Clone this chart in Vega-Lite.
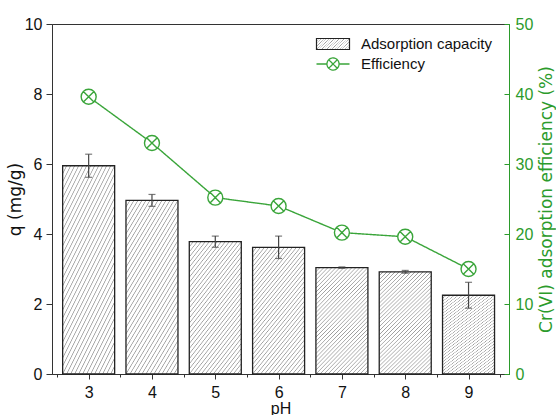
{
  "$schema": "https://vega.github.io/schema/vega-lite/v6.json",
  "width": 457,
  "height": 350,
  "autosize": {"type": "none"},
  "padding": {"left": 52, "top": 24, "right": 47, "bottom": 41},
  "config": {
    "view": {"stroke": "#333", "strokeWidth": 1},
    "font": "Liberation Sans",
    "axis": {"grid": false, "labelFont": "Liberation Sans", "labelFontSize": 16, "labelColor": "#111", "domainColor": "#333", "tickColor": "#333", "domainWidth": 1, "tickWidth": 1},
    "legend": {"labelFont": "Liberation Sans", "labelFontSize": 15, "labelColor": "#111", "padding": 0, "symbolSize": 484, "symbolStrokeWidth": 1.3, "labelOffset": 16}
  },
  "data": {
    "values": [
      {"pH": 3, "q": 5.95, "err": 0.33, "eff": 39.6},
      {"pH": 4, "q": 4.96, "err": 0.17, "eff": 33.0},
      {"pH": 5, "q": 3.78, "err": 0.16, "eff": 25.2},
      {"pH": 6, "q": 3.62, "err": 0.32, "eff": 24.0},
      {"pH": 7, "q": 3.04, "err": 0.02, "eff": 20.2},
      {"pH": 8, "q": 2.92, "err": 0.04, "eff": 19.6},
      {"pH": 9, "q": 2.25, "err": 0.37, "eff": 15.0}
    ]
  },
  "encoding": {
    "x": {
      "field": "pH",
      "type": "quantitative",
      "scale": {"domain": [2.5, 9.56], "nice": false, "zero": false},
      "axis": {
        "values": [2.5, 3, 3.5, 4, 4.5, 5, 5.5, 6, 6.5, 7, 7.5, 8, 8.5, 9, 9.5],
        "labelExpr": "datum.value % 1 === 0 ? '' + datum.value : ''",
        "tickSize": {"condition": {"test": "datum.value % 1 !== 0", "value": 3}, "value": 5},
        "labelPadding": 5,
        "labelFlush": false,
        "labelOverlap": false,
        "title": "pH",
        "titleFont": "Liberation Sans",
        "titleFontSize": 16,
        "titleFontWeight": "normal",
        "titleColor": "#111",
        "titleBaseline": "alphabetic",
        "titleY": 39
      }
    }
  },
  "layer": [
    {
      "layer": [
        {
          "mark": {
            "type": "bar",
            "width": 52,
            "strokeWidth": 1.3,
            "fill": {
              "gradient": "linear", "x1": 0, "y1": 0, "x2": 0.6, "y2": 1.2,
              "stops": [
                {"offset": 0, "color": "#9c9c9c"}, {"offset": 0.0055, "color": "#ffffff"}, {"offset": 0.0201, "color": "#ffffff"},
                {"offset": 0.0256, "color": "#9c9c9c"}, {"offset": 0.0311, "color": "#ffffff"}, {"offset": 0.0458, "color": "#ffffff"},
                {"offset": 0.0513, "color": "#9c9c9c"}, {"offset": 0.0568, "color": "#ffffff"}, {"offset": 0.0714, "color": "#ffffff"},
                {"offset": 0.0769, "color": "#9c9c9c"}, {"offset": 0.0824, "color": "#ffffff"}, {"offset": 0.0971, "color": "#ffffff"},
                {"offset": 0.1026, "color": "#9c9c9c"}, {"offset": 0.1081, "color": "#ffffff"}, {"offset": 0.1227, "color": "#ffffff"},
                {"offset": 0.1282, "color": "#9c9c9c"}, {"offset": 0.1337, "color": "#ffffff"}, {"offset": 0.1483, "color": "#ffffff"},
                {"offset": 0.1538, "color": "#9c9c9c"}, {"offset": 0.1593, "color": "#ffffff"}, {"offset": 0.174, "color": "#ffffff"},
                {"offset": 0.1795, "color": "#9c9c9c"}, {"offset": 0.185, "color": "#ffffff"}, {"offset": 0.1996, "color": "#ffffff"},
                {"offset": 0.2051, "color": "#9c9c9c"}, {"offset": 0.2106, "color": "#ffffff"}, {"offset": 0.2253, "color": "#ffffff"},
                {"offset": 0.2308, "color": "#9c9c9c"}, {"offset": 0.2363, "color": "#ffffff"}, {"offset": 0.2509, "color": "#ffffff"},
                {"offset": 0.2564, "color": "#9c9c9c"}, {"offset": 0.2619, "color": "#ffffff"}, {"offset": 0.2766, "color": "#ffffff"},
                {"offset": 0.2821, "color": "#9c9c9c"}, {"offset": 0.2876, "color": "#ffffff"}, {"offset": 0.3022, "color": "#ffffff"},
                {"offset": 0.3077, "color": "#9c9c9c"}, {"offset": 0.3132, "color": "#ffffff"}, {"offset": 0.3278, "color": "#ffffff"},
                {"offset": 0.3333, "color": "#9c9c9c"}, {"offset": 0.3388, "color": "#ffffff"}, {"offset": 0.3535, "color": "#ffffff"},
                {"offset": 0.359, "color": "#9c9c9c"}, {"offset": 0.3645, "color": "#ffffff"}, {"offset": 0.3791, "color": "#ffffff"},
                {"offset": 0.3846, "color": "#9c9c9c"}, {"offset": 0.3901, "color": "#ffffff"}, {"offset": 0.4048, "color": "#ffffff"},
                {"offset": 0.4103, "color": "#9c9c9c"}, {"offset": 0.4158, "color": "#ffffff"}, {"offset": 0.4304, "color": "#ffffff"},
                {"offset": 0.4359, "color": "#9c9c9c"}, {"offset": 0.4414, "color": "#ffffff"}, {"offset": 0.456, "color": "#ffffff"},
                {"offset": 0.4615, "color": "#9c9c9c"}, {"offset": 0.467, "color": "#ffffff"}, {"offset": 0.4817, "color": "#ffffff"},
                {"offset": 0.4872, "color": "#9c9c9c"}, {"offset": 0.4927, "color": "#ffffff"}, {"offset": 0.5073, "color": "#ffffff"},
                {"offset": 0.5128, "color": "#9c9c9c"}, {"offset": 0.5183, "color": "#ffffff"}, {"offset": 0.533, "color": "#ffffff"},
                {"offset": 0.5385, "color": "#9c9c9c"}, {"offset": 0.544, "color": "#ffffff"}, {"offset": 0.5586, "color": "#ffffff"},
                {"offset": 0.5641, "color": "#9c9c9c"}, {"offset": 0.5696, "color": "#ffffff"}, {"offset": 0.5842, "color": "#ffffff"},
                {"offset": 0.5897, "color": "#9c9c9c"}, {"offset": 0.5952, "color": "#ffffff"}, {"offset": 0.6099, "color": "#ffffff"},
                {"offset": 0.6154, "color": "#9c9c9c"}, {"offset": 0.6209, "color": "#ffffff"}, {"offset": 0.6355, "color": "#ffffff"},
                {"offset": 0.641, "color": "#9c9c9c"}, {"offset": 0.6465, "color": "#ffffff"}, {"offset": 0.6612, "color": "#ffffff"},
                {"offset": 0.6667, "color": "#9c9c9c"}, {"offset": 0.6722, "color": "#ffffff"}, {"offset": 0.6868, "color": "#ffffff"},
                {"offset": 0.6923, "color": "#9c9c9c"}, {"offset": 0.6978, "color": "#ffffff"}, {"offset": 0.7124, "color": "#ffffff"},
                {"offset": 0.7179, "color": "#9c9c9c"}, {"offset": 0.7234, "color": "#ffffff"}, {"offset": 0.7381, "color": "#ffffff"},
                {"offset": 0.7436, "color": "#9c9c9c"}, {"offset": 0.7491, "color": "#ffffff"}, {"offset": 0.7637, "color": "#ffffff"},
                {"offset": 0.7692, "color": "#9c9c9c"}, {"offset": 0.7747, "color": "#ffffff"}, {"offset": 0.7894, "color": "#ffffff"},
                {"offset": 0.7949, "color": "#9c9c9c"}, {"offset": 0.8004, "color": "#ffffff"}, {"offset": 0.815, "color": "#ffffff"},
                {"offset": 0.8205, "color": "#9c9c9c"}, {"offset": 0.826, "color": "#ffffff"}, {"offset": 0.8407, "color": "#ffffff"},
                {"offset": 0.8462, "color": "#9c9c9c"}, {"offset": 0.8517, "color": "#ffffff"}, {"offset": 0.8663, "color": "#ffffff"},
                {"offset": 0.8718, "color": "#9c9c9c"}, {"offset": 0.8773, "color": "#ffffff"}, {"offset": 0.8919, "color": "#ffffff"},
                {"offset": 0.8974, "color": "#9c9c9c"}, {"offset": 0.9029, "color": "#ffffff"}, {"offset": 0.9176, "color": "#ffffff"},
                {"offset": 0.9231, "color": "#9c9c9c"}, {"offset": 0.9286, "color": "#ffffff"}, {"offset": 0.9432, "color": "#ffffff"},
                {"offset": 0.9487, "color": "#9c9c9c"}, {"offset": 0.9542, "color": "#ffffff"}, {"offset": 0.9689, "color": "#ffffff"},
                {"offset": 0.9744, "color": "#9c9c9c"}, {"offset": 0.9799, "color": "#ffffff"}, {"offset": 0.9945, "color": "#ffffff"},
                {"offset": 1, "color": "#9c9c9c"}
              ]
            }
          },
          "encoding": {
            "y": {
              "field": "q",
              "type": "quantitative",
              "scale": {"domain": [0, 10], "nice": false},
              "axis": {
                "values": [0, 1, 2, 3, 4, 5, 6, 7, 8, 9, 10],
                "labelExpr": "datum.value % 2 === 0 ? datum.label : ''",
                "tickSize": {"condition": {"test": "datum.value % 2 !== 0", "value": 3}, "value": 6},
                "labelPadding": 4,
                "title": "q (mg/g)",
                "titleFont": "DejaVu Sans",
                "titleFontSize": 17,
                "titleFontWeight": "normal",
                "titleColor": "#111",
                "titleAngle": 270,
                "titleAlign": "center",
                "titleBaseline": "alphabetic",
                "titleX": -32,
                "titleY": 175
              }
            },
            "stroke": {
              "datum": "Adsorption capacity",
              "scale": {"range": ["#222222"]},
              "legend": {
                "orient": "none",
                "legendX": 269,
                "legendY": 8,
                "title": null,
                "symbolType": "M-1.5,-0.5H1.5V0.5H-1.5Z",
                "symbolStrokeWidth": 1.2
              }
            }
          }
        },
        {
          "mark": {"type": "errorbar", "color": "#444", "thickness": 1.2, "ticks": {"size": 7, "color": "#444"}},
          "encoding": {
            "y": {"field": "q", "type": "quantitative", "title": "q (mg/g)"},
            "yError": {"field": "err"}
          }
        }
      ]
    },
    {
      "layer": [
        {
          "mark": {"type": "line", "color": "#3aa53a", "strokeWidth": 1.4},
          "encoding": {
            "y": {
              "field": "eff",
              "type": "quantitative",
              "scale": {"domain": [0, 50], "nice": false},
              "axis": {
                "orient": "right",
                "values": [0, 5, 10, 15, 20, 25, 30, 35, 40, 45, 50],
                "labelExpr": "datum.value % 10 === 0 ? datum.label : ''",
                "tickSize": {"condition": {"test": "datum.value % 10 !== 0", "value": -3}, "value": -5},
                "labelPadding": 11,
                "labelColor": "#2b9b2b",
                "domainColor": "#2b9b2b",
                "tickColor": "#2b9b2b",
                "title": "Cr(VI) adsorption efficiency (%)",
                "titleFont": "DejaVu Sans",
                "titleFontSize": 17,
                "titleFontWeight": "normal",
                "titleColor": "#2b9b2b",
                "titleAngle": 270,
                "titleAlign": "center",
                "titleBaseline": "alphabetic",
                "titleX": 42,
                "titleY": 175
              }
            },
            "strokeDash": {
              "datum": "Efficiency",
              "scale": {"range": [[1, 0]]},
              "legend": {
                "orient": "none",
                "legendX": 269,
                "legendY": 28,
                "title": null,
                "symbolType": "M-1.5,0H-0.55 M0.55,0H1.5 M0.55,0A0.55,0.55,0,1,1,-0.55,0A0.55,0.55,0,1,1,0.55,0Z M-0.39,-0.39L0.39,0.39 M-0.39,0.39L0.39,-0.39",
                "symbolFillColor": "#ffffff",
                "symbolStrokeColor": "#3aa53a"
              }
            }
          }
        },
        {
          "mark": {
            "type": "point",
            "filled": true,
            "fill": "#ffffff",
            "stroke": "#3aa53a",
            "strokeWidth": 1.4,
            "size": 225,
            "opacity": 1,
            "shape": "M1,0A1,1,0,1,1,-1,0A1,1,0,1,1,1,0Z M-0.7071,-0.7071L0.7071,0.7071 M-0.7071,0.7071L0.7071,-0.7071"
          },
          "encoding": {
            "y": {"field": "eff", "type": "quantitative"}
          }
        }
      ]
    }
  ],
  "resolve": {"scale": {"y": "independent"}}
}
